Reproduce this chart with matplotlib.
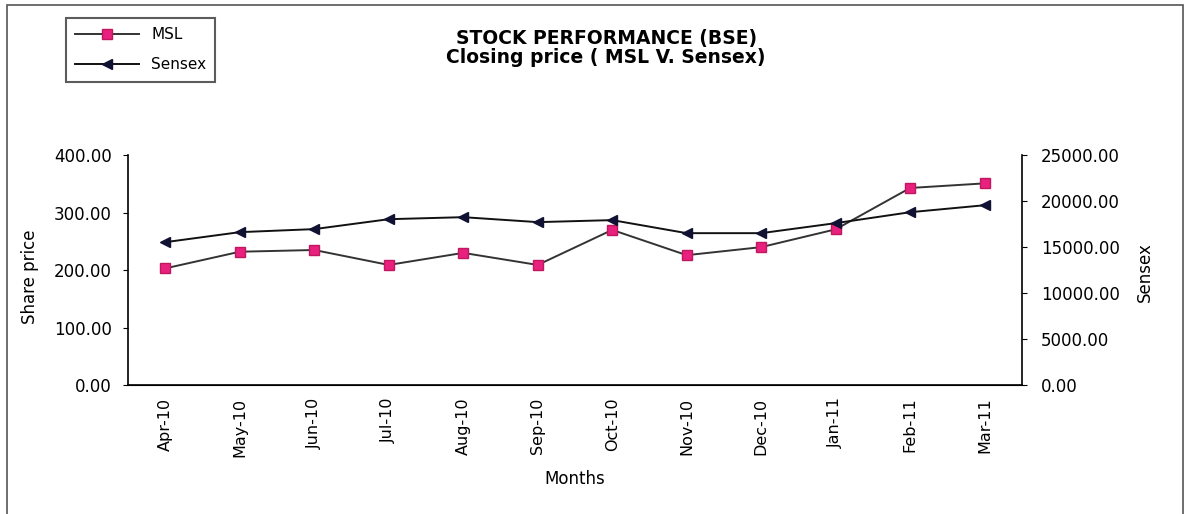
import matplotlib.pyplot as plt
from matplotlib.patches import Rectangle

plt.rcParams['font.family'] = ['DejaVu Sans']

months = ['Apr-10', 'May-10', 'Jun-10', 'Jul-10', 'Aug-10', 'Sep-10',
          'Oct-10', 'Nov-10', 'Dec-10', 'Jan-11', 'Feb-11', 'Mar-11']
# closing prices
msl = [203, 232, 235, 209, 230, 209, 270, 226, 240, 271, 343, 351]
sensex = [15540, 16630, 16960, 18040, 18260, 17720, 17940, 16520, 16520, 17610, 18800, 19560]

fig = plt.figure(figsize=(11.91, 5.14), dpi=100)

# outer frame of the chart
fig.patches.append(Rectangle((0.006, -0.01), 0.987, 1.0, transform=fig.transFigure,
                             fill=False, edgecolor='#555555', linewidth=1.2))

ax = fig.add_axes([0.1075, 0.251, 0.7505, 0.447])
ax2 = ax.twinx()

x = range(len(months))
l1, = ax.plot(x, msl, color='#333333', linewidth=1.4, marker='s', markersize=7,
              markerfacecolor='#e8207e', markeredgecolor='#c0185f', label='MSL')
l2, = ax2.plot(x, sensex, color='#111111', linewidth=1.4, marker='<', markersize=7,
               markerfacecolor='#111133', markeredgecolor='#111133', label='Sensex')

ax.set_xlim(-0.5, len(months) - 0.5)
ax.set_ylim(0, 400)
ax.set_yticks([0, 100, 200, 300, 400])
ax.set_yticklabels(['%.2f' % v for v in [0, 100, 200, 300, 400]], fontsize=12)
ax2.set_ylim(0, 25000)
ax2.set_yticks([0, 5000, 10000, 15000, 20000, 25000])
ax2.set_yticklabels(['%.2f' % v for v in [0, 5000, 10000, 15000, 20000, 25000]], fontsize=12)
ax.tick_params(axis='y', pad=8)
ax2.tick_params(axis='y', pad=10)

ax.set_xticks(list(x))
ax.set_xticklabels(months, rotation=90, fontsize=11.5)
ax.tick_params(axis='x', length=0, pad=9)

for a in (ax, ax2):
    a.spines['top'].set_visible(False)
ax.spines['right'].set_visible(False)
ax2.spines['left'].set_visible(False)
ax2.spines['right'].set_linewidth(1.2)
ax.spines['left'].set_linewidth(1.2)
ax.spines['bottom'].set_linewidth(1.2)

ax.set_ylabel('Share price', fontsize=12)
ax.yaxis.set_label_coords(-0.100, 0.47)
ax2.set_ylabel('Sensex', fontsize=12)
ax2.yaxis.set_label_coords(1.128, 0.49)
ax.set_xlabel('Months', fontsize=12)
ax.xaxis.set_label_coords(0.5, -0.37)

fig.text(0.509, 0.926, 'STOCK PERFORMANCE (BSE)', ha='center', va='center',
         fontsize=13.5, fontweight='bold')
fig.text(0.509, 0.889, 'Closing price ( MSL V. Sensex)', ha='center', va='center',
         fontsize=13.5, fontweight='bold')

leg = fig.legend(handles=[l1, l2], loc='upper left', bbox_to_anchor=(0.055, 0.965),
                 borderaxespad=0, fontsize=11, frameon=True, fancybox=False,
                 edgecolor='#333333', handlelength=4.2, borderpad=0.6, labelspacing=1.0)
leg.get_frame().set_linewidth(1.5)

fig.savefig('out.png', dpi=100)
